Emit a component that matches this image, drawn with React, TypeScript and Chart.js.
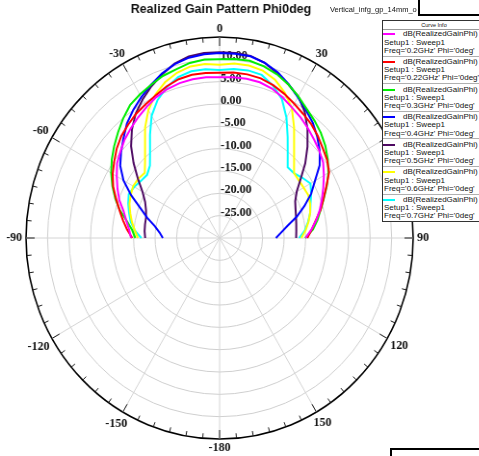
import React, { useEffect, useRef } from 'react';
import { Chart, registerables } from 'chart.js';

Chart.register(...registerables);

// Angular categories of the radar scale: 0..355 deg clockwise from the top, every 5 deg.
const ANGLES: number[] = Array.from({ length: 72 }, (_, i) => i * 5);

// Pattern samples run from -90 deg to +90 deg in 5 deg steps (37 values, dB).
const GAIN_02GHZ = [-9.4, -8.9, -8.0, -6.9, -5.2, -3.8, -2.4, -0.9, 0.1, 1.2, 2.1, 3.0, 3.9, 4.8, 5.5, 5.9, 6.1, 6.1, 6.0, 6.1, 6.2, 6.1, 5.6, 4.7, 3.7, 2.9, 2.0, 1.1, 0.3, -0.6, -2.0, -3.4, -4.7, -5.9, -7.2, -8.6, -10.0];
const GAIN_022GHZ = [-9.7, -8.4, -7.2, -5.9, -4.4, -2.7, -1.3, -0.1, 1.2, 2.3, 3.1, 3.9, 4.5, 5.2, 6.1, 6.8, 7.1, 7.1, 7.0, 7.2, 7.2, 7.0, 6.4, 5.6, 4.7, 3.9, 3.2, 2.3, 1.3, 0.5, -0.6, -2.6, -4.3, -5.7, -7.3, -8.5, -9.6];
const GAIN_03GHZ = [-10.4, -9.6, -8.1, -6.0, -4.2, -2.5, -0.9, 0.6, 2.0, 3.4, 4.9, 6.3, 7.1, 7.8, 8.6, 9.1, 9.8, 10.1, 10.0, 10.2, 10.3, 9.8, 9.0, 7.9, 6.6, 5.3, 4.3, 3.3, 2.1, 0.7, -0.8, -2.5, -4.2, -5.7, -6.9, -8.2, -10.1];
const GAIN_04GHZ = [-16.8, -16.0, -14.7, -12.6, -10.4, -7.3, -4.2, -1.8, -0.1, 1.6, 3.5, 5.0, 6.4, 7.8, 9.2, 10.3, 11.0, 11.3, 11.4, 11.4, 11.3, 10.6, 9.5, 8.0, 6.4, 5.0, 3.7, 2.1, 0.4, -1.6, -4.4, -6.5, -9.0, -11.4, -13.9, -15.6, -16.9];
const GAIN_05GHZ = [-12.7, -12.5, -12.4, -12.3, -11.8, -10.9, -9.3, -6.8, -3.9, -0.9, 1.7, 4.0, 5.8, 7.5, 9.0, 10.4, 11.3, 11.6, 11.6, 11.6, 11.4, 10.6, 9.2, 7.9, 6.6, 4.5, 1.8, -1.1, -4.0, -7.0, -9.3, -10.6, -11.2, -11.6, -11.9, -12.1, -12.2];
const GAIN_06GHZ = [-11.0, -10.2, -9.3, -8.5, -7.7, -7.2, -6.8, -6.9, -7.3, -5.5, -3.05, 0.2, 3.1, 5.4, 7.1, 8.3, 9.0, 9.1, 8.8, 9.2, 9.2, 8.8, 7.7, 5.9, 3.6, 0.2, -3.05, -5.5, -7.4, -7.5, -7.45, -7.25, -7.6, -8.2, -9.0, -9.9, -11.0];
const GAIN_07GHZ = [-11.8, -10.2, -9.0, -8.2, -7.4, -6.7, -7.1, -7.7, -8.0, -7.1, -4.85, -1.8, 1.6, 4.1, 5.9, 7.3, 7.9, 7.9, 7.6, 8.0, 8.1, 7.8, 6.3, 4.3, 1.1, -2.4, -5.35, -7.6, -7.45, -6.5, -5.6, -6.5, -7.5, -8.2, -9.1, -10.1, -11.5];

const FREQS = ['0.2GHz', '0.22GHz', '0.3GHz', '0.4GHz', '0.5GHz', '0.6GHz', '0.7GHz'];
const COLORS = ['#ff00ff', '#ff0000', '#00ee00', '#0000ff', '#4e0a62', '#ffff00', '#00ffff'];
const SERIES = [GAIN_02GHZ, GAIN_022GHZ, GAIN_03GHZ, GAIN_04GHZ, GAIN_05GHZ, GAIN_06GHZ, GAIN_07GHZ];

// Radial scale and its printed ring values.
const R_MIN = -30;
const R_MAX = 15;
const R_STEP = 5;
const RING_LABELS = [10, 5, 0, -5, -10, -15, -20, -25];

const TITLE = 'Realized Gain Pattern Phi0deg';
const FILE_NAME = 'Vertical_infg_gp_14mm_o';

// The plot is slightly narrower than tall; the canvas is squeezed horizontally
// and text is counter-scaled so glyphs keep their shape.
const SQUEEZE = 0.963;
const CANVAS_W = 497;
const CANVAS_H = 456;

// Map the -90..90 samples onto the 72 clockwise radar categories.
function toRing(values: number[]): (number | null)[] {
  return ANGLES.map((a) => {
    if (a <= 90) return values[(a + 90) / 5];
    if (a >= 270) return values[(a - 270) / 5];
    return null;
  });
}

const angleText = (deg: number) => (deg === 180 ? '-180' : deg > 180 ? String(deg - 360) : String(deg));

function squeezedText(ctx: CanvasRenderingContext2D, text: string, x: number, y: number,
  align: CanvasTextAlign, baseline: CanvasTextBaseline) {
  ctx.save();
  ctx.translate(x, y);
  ctx.scale(1 / SQUEEZE, 1);
  ctx.textAlign = align;
  ctx.textBaseline = baseline;
  ctx.fillText(text, 0, 0);
  ctx.restore();
}

// Outer tick ring, angle labels, ring values and the title.
const polarFrame = {
  id: 'polarFrame',
  beforeDatasetsDraw(chart: any) {
    const scale = chart.scales.r;
    const ctx: CanvasRenderingContext2D = chart.ctx;
    const R = scale.drawingArea;
    ctx.save();

    ctx.strokeStyle = '#1a1a1a';
    ctx.lineWidth = 1;
    ANGLES.forEach((deg, i) => {
      const len = deg % 30 === 0 ? 9 : 5;
      const a = scale.getPointPosition(i, R);
      const b = scale.getPointPosition(i, R - len);
      ctx.beginPath();
      ctx.moveTo(a.x, a.y);
      ctx.lineTo(b.x, b.y);
      ctx.stroke();
    });

    ctx.fillStyle = '#111';
    ctx.font = 'bold 12px "Liberation Serif", serif';
    ANGLES.forEach((deg, i) => {
      if (deg % 30 !== 0) return;
      const text = angleText(deg);
      const w = ctx.measureText(text).width;
      const th = (deg * Math.PI) / 180;
      const d = R + 4 + (Math.abs(Math.sin(th)) * w) / 2 / SQUEEZE + Math.abs(Math.cos(th)) * 4.5;
      const p = scale.getPointPosition(i, d);
      squeezedText(ctx, text, p.x, p.y, 'center', 'middle');
    });

    RING_LABELS.forEach((v) => {
      const p = scale.getPointPositionForValue(0, v);
      squeezedText(ctx, v.toFixed(2), p.x + 1, p.y, 'left', 'alphabetic');
    });

    ctx.font = 'bold 12.5px "Liberation Sans", Arial, sans-serif';
    squeezedText(ctx, TITLE, scale.xCenter + 1.5, 10, 'center', 'middle');
    ctx.restore();
  },
};

const textAt = (x: number, cy: number, size = 8): React.CSSProperties => ({
  position: 'absolute',
  left: x,
  top: cy - 5,
  height: 10,
  lineHeight: '10px',
  fontSize: size,
  whiteSpace: 'nowrap',
  color: '#111',
});

export default function App() {
  const ref = useRef<HTMLCanvasElement>(null);

  useEffect(() => {
    const chart = new Chart(ref.current!, {
      type: 'radar',
      data: {
        labels: ANGLES.map(String),
        datasets: SERIES.map((values, k) => ({
          label: FREQS[k],
          data: toRing(values),
          borderColor: COLORS[k],
          backgroundColor: COLORS[k],
          borderWidth: 2,
          pointRadius: 0,
          fill: false,
          spanGaps: false,
          tension: 0,
        })),
      },
      options: {
        responsive: false,
        animation: false,
        events: [],
        layout: { padding: { left: 27, top: 37, right: 68, bottom: 17 } },
        plugins: {
          legend: { display: false },
          tooltip: { enabled: false },
          title: { display: false },
        },
        scales: {
          r: {
            min: R_MIN,
            max: R_MAX,
            startAngle: 0,
            ticks: { display: false, stepSize: R_STEP },
            pointLabels: { display: false },
            grid: {
              circular: true,
              color: (c: any) => (c.tick && c.tick.value === R_MAX ? '#000' : '#cfcfcf'),
              lineWidth: (c: any) => (c.tick && c.tick.value === R_MAX ? 1.6 : 1),
            },
            angleLines: {
              color: '#d4d4d4',
              lineWidth: (c: any) => (c.index % 6 === 0 ? 1 : 0),
            },
          },
        },
      } as any,
      plugins: [polarFrame],
    });
    return () => chart.destroy();
  }, []);

  return (
    <div
      style={{
        position: 'fixed',
        left: 0,
        top: 0,
        width: 479,
        height: 456,
        overflow: 'hidden',
        background: '#fff',
        fontFamily: '"Liberation Sans", Arial, sans-serif',
      }}
    >
      <canvas
        ref={ref}
        width={CANVAS_W}
        height={CANVAS_H}
        style={{ position: 'absolute', left: 0, top: 0, transform: `scaleX(${SQUEEZE})`, transformOrigin: '0 0' }}
      />

      <div style={textAt(330, 10, 7.5)}>{FILE_NAME}</div>
      <div
        style={{
          position: 'absolute', left: 418, top: -4, width: 80, height: 16,
          border: '2px solid #000', background: '#fff',
        }}
      />

      <div
        style={{
          position: 'absolute', left: 382, top: 20, width: 110, height: 202,
          border: '1px solid #333', background: '#fff', boxSizing: 'border-box',
        }}
      />
      <div style={{ position: 'absolute', left: 383, top: 29, width: 100, height: 1, background: '#999' }} />
      <div style={{ ...textAt(384, 25, 5.5), width: 100, textAlign: 'center' }}>Curve Info</div>

      {FREQS.map((f, k) => {
        const y0 = 34.3 + k * 27.6;
        return (
          <React.Fragment key={f}>
            {k > 0 && (
              <div style={{ position: 'absolute', left: 383, top: y0 - 6.4, width: 100, height: 1, background: '#b0b0b0' }} />
            )}
            <div style={{ position: 'absolute', left: 383, top: y0 - 1, width: 12, height: 2, background: COLORS[k] }} />
            <div style={textAt(403, y0)}>dB(RealizedGainPhi)</div>
            <div style={textAt(384, y0 + 8.3)}>Setup1 : Sweep1</div>
            <div style={textAt(384, y0 + 16.4)}>{`Freq='${f}' Phi='0deg'`}</div>
          </React.Fragment>
        );
      })}

      <div
        style={{
          position: 'absolute', left: 390, top: 448, width: 100, height: 20,
          borderTop: '2px solid #000', borderLeft: '2px solid #000', background: '#fff',
        }}
      />
    </div>
  );
}
